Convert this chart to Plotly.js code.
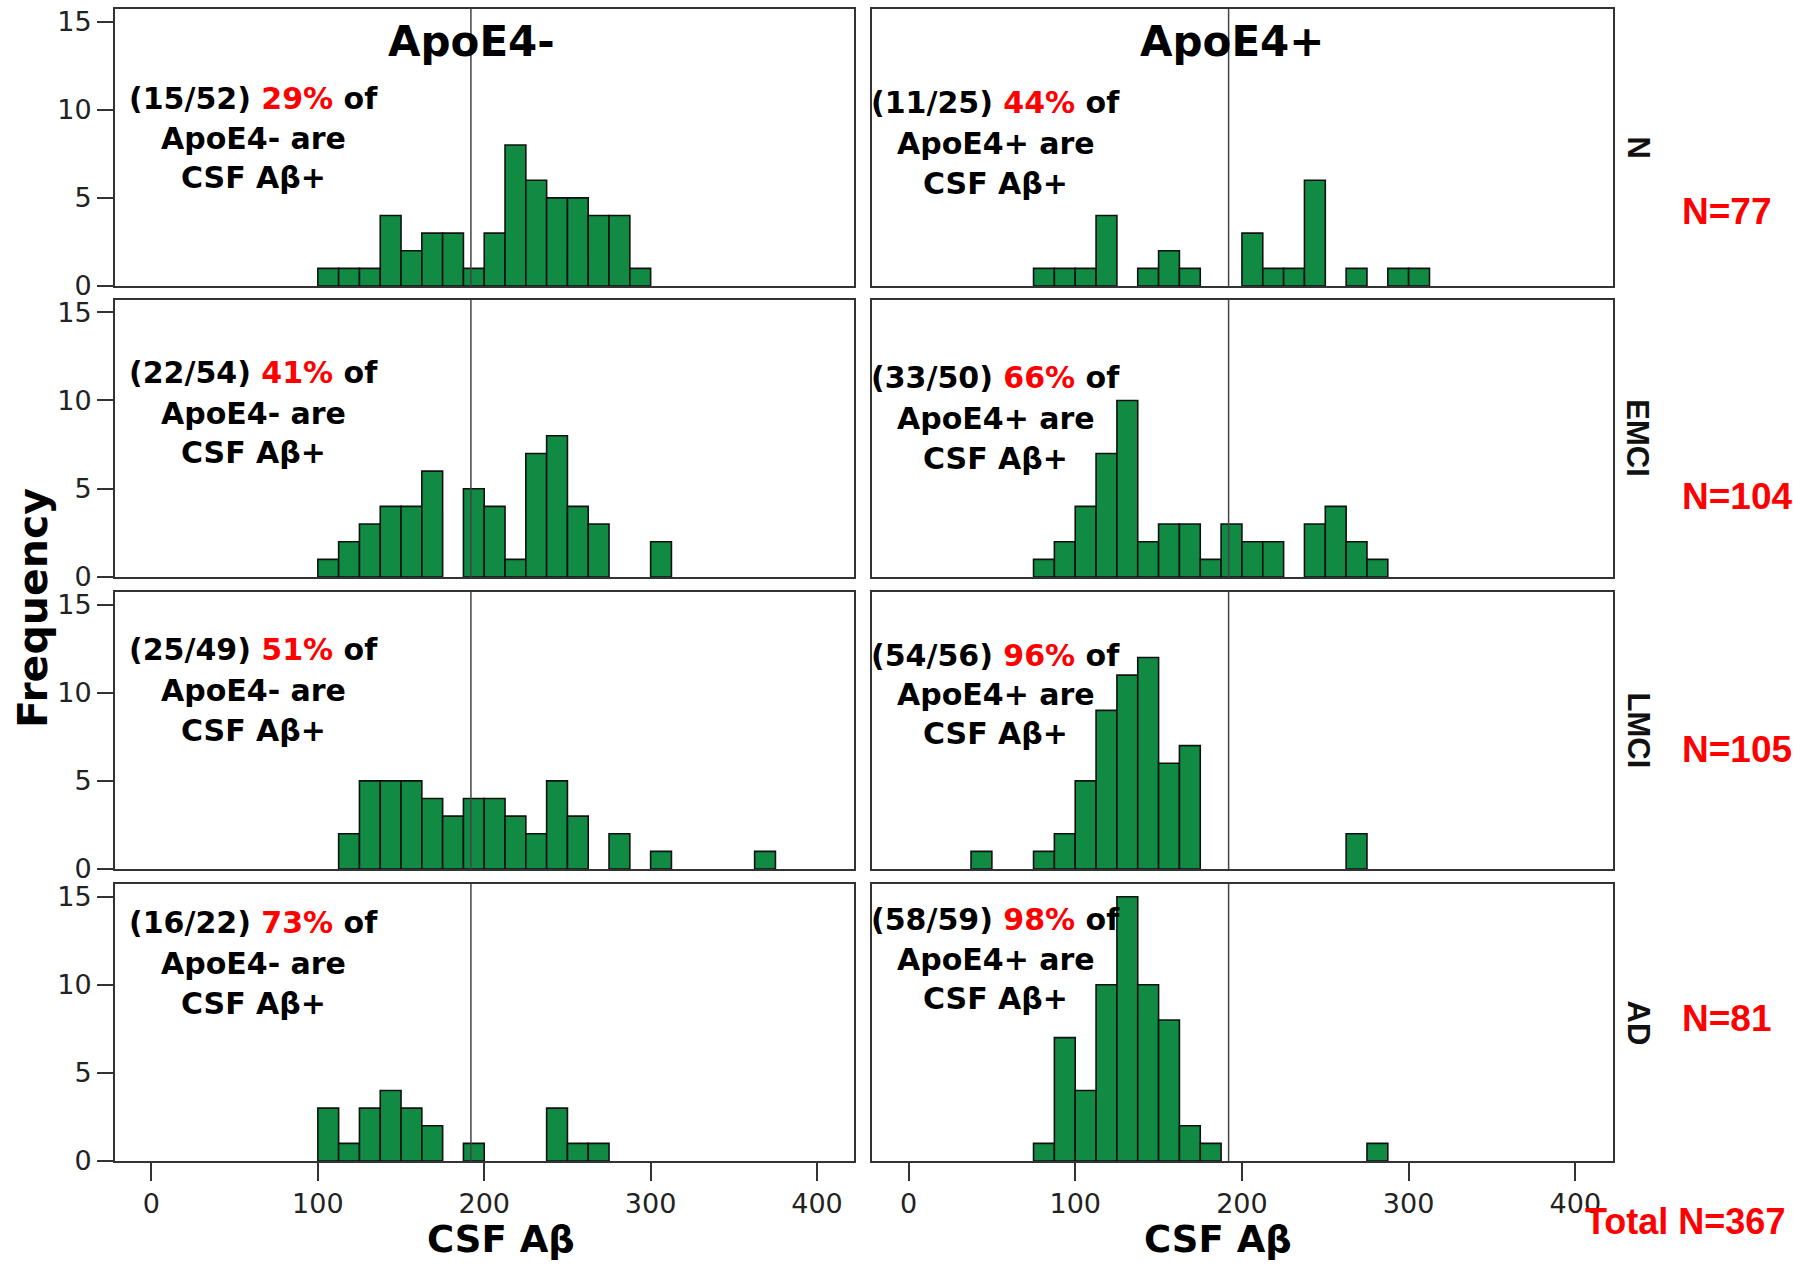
<!DOCTYPE html>
<html><head><meta charset="utf-8">
<script src="https://cdn.plot.ly/plotly-3.0.1.min.js"></script>
<style>html,body{margin:0;padding:0;background:#fff;} #chart{width:1793px;height:1265px;}</style>
</head><body><div id="chart"></div>
<script>
// ---------------- DATA ----------------
const groups = ["N", "EMCI", "LMCI", "AD"];
const groupN = ["N=77", "N=104", "N=105", "N=81"];
const totalLabel = "Total N=367";
const columns = ["ApoE4-", "ApoE4+"];
const xTitle = "CSF Aβ";
const yTitle = "Frequency";
const binWidth = 12.5;
const cutoff = 192;
const xTicks = [0, 100, 200, 300, 400];
const yTicks = [0, 5, 10, 15];

// left bin edges and counts per panel
const N_neg_bins = [100,112.5,125,137.5,150,162.5,175,187.5,200,212.5,225,237.5,250,262.5,275,287.5];
const N_neg_counts = [1,1,1,4,2,3,3,1,3,8,6,5,5,4,4,1];
const N_pos_bins = [75,87.5,100,112.5,137.5,150,162.5,200,212.5,225,237.5,262.5,287.5,300];
const N_pos_counts = [1,1,1,4,1,2,1,3,1,1,6,1,1,1];

const EMCI_neg_bins = [100,112.5,125,137.5,150,162.5,187.5,200,212.5,225,237.5,250,262.5,300];
const EMCI_neg_counts = [1,2,3,4,4,6,5,4,1,7,8,4,3,2];
const EMCI_pos_bins = [75,87.5,100,112.5,125,137.5,150,162.5,175,187.5,200,212.5,237.5,250,262.5,275];
const EMCI_pos_counts = [1,2,4,7,10,2,3,3,1,3,2,2,3,4,2,1];

const LMCI_neg_bins = [112.5,125,137.5,150,162.5,175,187.5,200,212.5,225,237.5,250,275,300,362.5];
const LMCI_neg_counts = [2,5,5,5,4,3,4,4,3,2,5,3,2,1,1];
const LMCI_pos_bins = [37.5,75,87.5,100,112.5,125,137.5,150,162.5,262.5];
const LMCI_pos_counts = [1,1,2,5,9,11,12,6,7,2];

const AD_neg_bins = [100,112.5,125,137.5,150,162.5,187.5,237.5,250,262.5];
const AD_neg_counts = [3,1,3,4,3,2,1,3,1,1];
const AD_pos_bins = [75,87.5,100,112.5,125,137.5,150,162.5,175,275];
const AD_pos_counts = [1,7,4,10,15,10,8,2,1,1];

const fracNeg = ["15/52", "22/54", "25/49", "16/22"];
const pctNeg = ["29%", "41%", "51%", "73%"];
const fracPos = ["11/25", "33/50", "54/56", "58/59"];
const pctPos = ["44%", "66%", "96%", "98%"];

// ---------------- BUILD ----------------
const panels = [
  [N_neg_bins, N_neg_counts], [N_pos_bins, N_pos_counts],
  [EMCI_neg_bins, EMCI_neg_counts], [EMCI_pos_bins, EMCI_pos_counts],
  [LMCI_neg_bins, LMCI_neg_counts], [LMCI_pos_bins, LMCI_pos_counts],
  [AD_neg_bins, AD_neg_counts], [AD_pos_bins, AD_pos_counts]
];

const W = 1793, H = 1265;
const px = x => x / W;
const py = y => 1 - y / H;

const colX = [[115, 854.3], [872, 1612.7]];
const rowY = [[9, 286], [299.5, 577], [592, 869], [884, 1161]];
const xRange = [-21.9, 422.4];
const yRange = [0, 15.72];

const BOLD = "DejaVu Sans";
const ARIAL = "Liberation Sans, Arial, sans-serif";
const GREEN = "#118A44";
const LINE = "#333333";

const data = [];
const layout = {
  width: W, height: H,
  margin: {l: 0, r: 0, t: 0, b: 0},
  paper_bgcolor: "#ffffff", plot_bgcolor: "#ffffff",
  showlegend: false, bargap: 0,
  shapes: [], annotations: []
};

panels.forEach((p, i) => {
  const row = Math.floor(i / 2), col = i % 2;
  const id = i + 1;
  const xa = "x" + (id === 1 ? "" : id), ya = "y" + (id === 1 ? "" : id);
  data.push({
    type: "bar", x: p[0], y: p[1], xaxis: xa, yaxis: ya,
    offset: 0, width: binWidth,
    marker: {color: GREEN, line: {color: "#111111", width: 1.6}},
    hoverinfo: "x+y"
  });
  const bottom = row === 3, left = col === 0;
  layout["xaxis" + (id === 1 ? "" : id)] = {
    domain: [px(colX[col][0]), px(colX[col][1])], anchor: ya,
    range: xRange, showgrid: false, zeroline: false,
    showline: true, mirror: true, linecolor: LINE, linewidth: 2,
    ticks: bottom ? "outside" : "", tickvals: xTicks, ticklen: 18, tickwidth: 2, tickcolor: LINE,
    showticklabels: bottom, tickfont: {family: "DejaVu Sans", size: 27, color: "#222"}
  };
  layout["yaxis" + (id === 1 ? "" : id)] = {
    domain: [py(rowY[row][1]), py(rowY[row][0])], anchor: xa,
    range: yRange, showgrid: false, zeroline: false,
    showline: true, mirror: true, linecolor: LINE, linewidth: 2,
    ticks: left ? "outside" : "", tickvals: yTicks, ticklen: 16, tickwidth: 2, tickcolor: LINE,
    showticklabels: left, tickfont: {family: "DejaVu Sans", size: 27, color: "#222"}
  };
  layout.shapes.push({
    type: "line", xref: xa, yref: ya + " domain", x0: cutoff, x1: cutoff, y0: 0, y1: 1,
    line: {color: "#444", width: 1.5}, layer: "above"
  });
});

// in-panel texts
const textX = [254, 995.5];
const lineY = [
  [[98, 138, 178], [103, 143, 183]],
  [[372.5, 413, 453], [377, 418, 458]],
  [[649, 690, 730], [655, 694, 733]],
  [[922, 963, 1003], [919, 960, 998]]
];
for (let r = 0; r < 4; r++) {
  for (let c = 0; c < 2; c++) {
    const frac = c === 0 ? fracNeg[r] : fracPos[r];
    const pct = c === 0 ? pctNeg[r] : pctPos[r];
    const lines = [
      "(" + frac + ") <span style='color:#ff0000'>" + pct + "</span> of",
      columns[c] + " are",
      "CSF Aβ+"
    ];
    lines.forEach((t, k) => {
      layout.annotations.push({
        xref: "paper", yref: "paper", x: px(textX[c]), y: py(lineY[r][c][k]),
        xanchor: "center", yanchor: "middle", showarrow: false, text: t,
        font: {family: BOLD, size: 30, color: "#000", weight: "bold"}
      });
    });
  }
}

// column titles
const colTitleX = [472, 1232];
columns.forEach((t, c) => {
  layout.annotations.push({
    xref: "paper", yref: "paper", x: px(colTitleX[c]), y: py(41),
    xanchor: "center", yanchor: "middle", showarrow: false, text: t,
    font: {family: BOLD, size: 42, color: "#000", weight: "bold"}
  });
});

// x titles
const xTitleX = [501, 1218];
xTitleX.forEach(x => {
  layout.annotations.push({
    xref: "paper", yref: "paper", x: px(x), y: py(1239),
    xanchor: "center", yanchor: "middle", showarrow: false, text: xTitle,
    font: {family: BOLD, size: 37, color: "#000", weight: "bold"}
  });
});

// y title
layout.annotations.push({
  xref: "paper", yref: "paper", x: px(33), y: py(608),
  xanchor: "center", yanchor: "middle", showarrow: false, text: yTitle, textangle: -90,
  font: {family: BOLD, size: 41, color: "#000", weight: "bold"}
});

// facet labels and N labels
const rowCenter = rowY.map(r => (r[0] + r[1]) / 2);
const nLabelY = [211, 497, 749, 1018];
groups.forEach((g, r) => {
  layout.annotations.push({
    xref: "paper", yref: "paper", x: px(1638), y: py(rowCenter[r]),
    xanchor: "center", yanchor: "middle", showarrow: false, text: g, textangle: 90,
    font: {family: ARIAL, size: 31, color: "#111", weight: "bold"}
  });
  layout.annotations.push({
    xref: "paper", yref: "paper", x: px(1680), y: py(nLabelY[r]),
    xanchor: "left", yanchor: "middle", showarrow: false, text: groupN[r],
    font: {family: ARIAL, size: 37, color: "#ff0000", weight: "bold"}
  });
});
layout.annotations.push({
  xref: "paper", yref: "paper", x: px(1583), y: py(1221),
  xanchor: "left", yanchor: "middle", showarrow: false, text: totalLabel,
  font: {family: ARIAL, size: 36, color: "#ff0000", weight: "bold"}
});

Plotly.newPlot("chart", data, layout, {staticPlot: true, displayModeBar: false});
</script>
</body></html>
